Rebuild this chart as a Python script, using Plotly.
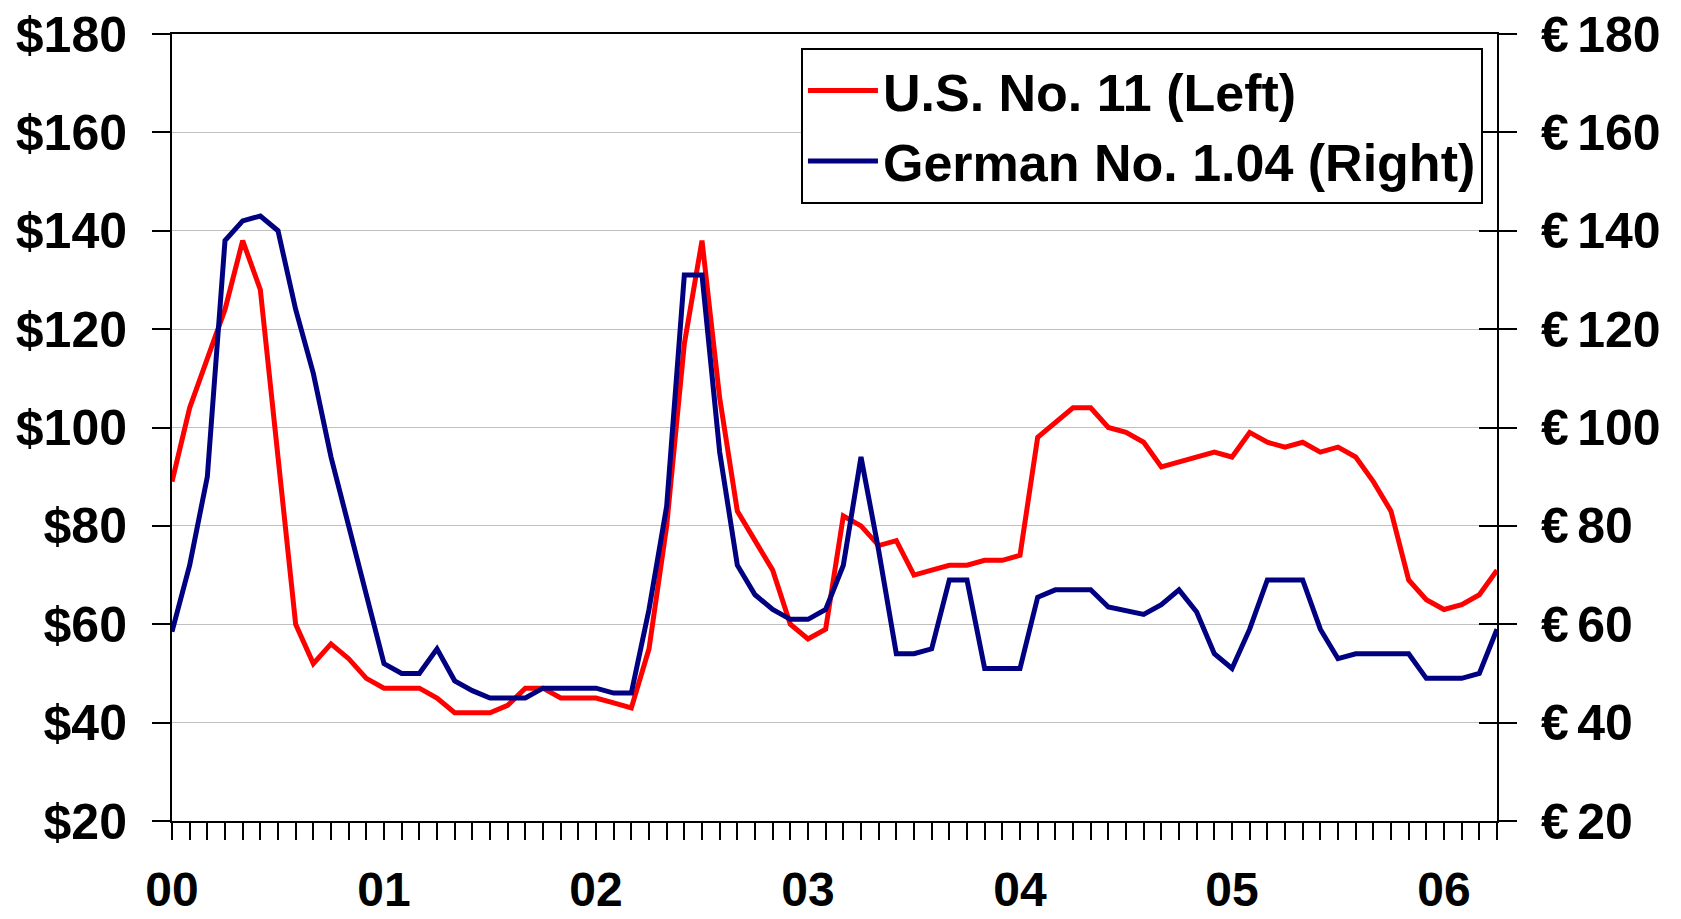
import plotly.graph_objects as go

# Monthly sugar prices, Jan 2000 - Apr 2006
months = [f"{y:02d}-{m:02d}" for y in range(0, 7) for m in range(1, 13)][:76]
year_labels = ["00", "01", "02", "03", "04", "05", "06"]

# U.S. No. 11 (left axis, $)
us_no11 = [89, 104, 114, 124, 138, 128, 94, 60, 52, 56, 53, 49,
           47, 47, 47, 45, 42, 42, 42, 43.5, 47, 47, 45, 45,
           45, 44, 43, 55, 80, 117, 138, 106, 83, 77, 71, 60,
           57, 59, 82, 80, 76, 77, 70, 71, 72, 72, 73, 73,
           74, 98, 101, 104, 104, 100, 99, 97, 92, 93, 94, 95,
           94, 99, 97, 96, 97, 95, 96, 94, 89, 83, 69, 65,
           63, 64, 66, 71]

# German No. 1.04 (right axis, EUR)
german_no104 = [58.5, 72, 90, 138, 142, 143, 140, 124, 111, 94, 80, 66,
                52, 50, 50, 55, 48.5, 46.5, 45, 45, 45, 47, 47, 47,
                47, 46, 46, 63, 84, 131, 131, 95, 72, 66, 63, 61,
                61, 63, 72, 94, 75, 54, 54, 55, 69, 69, 51, 51,
                51, 65.5, 67, 67, 67, 63.5, 62.7, 62, 64, 67, 62.5, 54,
                51, 59, 69, 69, 69, 59, 53, 54, 54, 54, 54, 49,
                49, 49, 50, 59]

tick_text = [year_labels[i // 12] if i % 12 == 0 else "" for i in range(len(months))]

font_family = "Liberation Sans, Arial, sans-serif"
tick_font = dict(family=font_family, size=50, color="black", weight="bold")
x_tick_font = dict(family=font_family, size=48, color="black", weight="bold")

fig = go.Figure()

fig.add_trace(go.Scatter(
    x=months, y=us_no11, mode="lines", name="U.S. No. 11 (Left)",
    line=dict(color="#FF0000", width=5),
))
fig.add_trace(go.Scatter(
    x=months, y=german_no104, mode="lines", name="German No. 1.04 (Right)",
    line=dict(color="#000080", width=5), yaxis="y2",
))

# page body adds an 8px offset, so the figure is a bit smaller than the window
fig.update_layout(
    width=1673, height=911,
    margin=dict(l=164, r=184, t=26, b=98),
    plot_bgcolor="white", paper_bgcolor="white",
    showlegend=True,
    legend=dict(
        x=0.9894, xanchor="right", y=0.982, yanchor="top",
        bgcolor="white", bordercolor="black", borderwidth=2,
        font=dict(family=font_family, size=52, color="black", weight="bold"),
        itemwidth=70,
    ),
    xaxis=dict(
        type="category", range=[0, len(months) - 1],
        tickmode="array", tickvals=months, ticktext=tick_text,
        ticks="outside", ticklen=17, tickwidth=2, tickcolor="black",
        showline=True, linewidth=2, linecolor="black", mirror=True,
        showgrid=False, tickfont=x_tick_font, tickangle=0,
        ticklabelstandoff=8, automargin=False,
    ),
    yaxis=dict(
        range=[20, 180], dtick=20, tickprefix="$",
        ticks="outside", ticklen=18, tickwidth=2, tickcolor="black",
        showline=True, linewidth=2, linecolor="black",
        showgrid=True, gridcolor="#C0C0C0", gridwidth=1.3, zeroline=False,
        tickfont=tick_font, ticklabelstandoff=15, automargin=False,
        ticklabeloverflow="allow",
    ),
    yaxis2=dict(
        range=[20, 180], dtick=20, tickprefix="€\u2006",
        overlaying="y", side="right",
        ticks="outside", ticklen=18, tickwidth=2, tickcolor="black",
        showline=True, linewidth=2, linecolor="black",
        showgrid=False, zeroline=False,
        tickfont=tick_font, ticklabelstandoff=14, automargin=False,
        ticklabeloverflow="allow",
    ),
    yaxis3=dict(
        range=[20, 180], dtick=20, overlaying="y", side="right",
        ticks="inside", ticklen=18, tickwidth=2, tickcolor="black",
        showline=False, showgrid=False, zeroline=False,
        showticklabels=False, automargin=False,
    ),
)

# invisible helper trace so the inside-tick axis is drawn
fig.add_trace(go.Scatter(x=[months[0]], y=[None], yaxis="y3", showlegend=False,
                         hoverinfo="skip"))

fig.write_html("out.html")
